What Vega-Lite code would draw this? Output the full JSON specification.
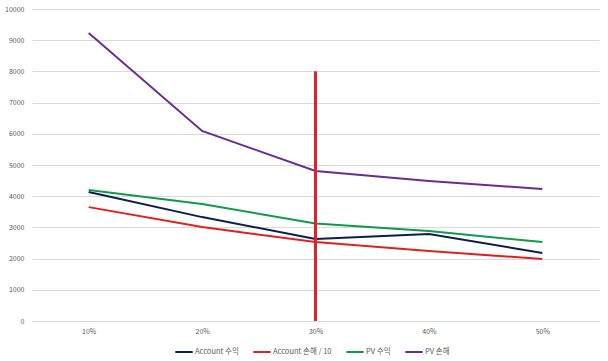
{
  "$schema": "https://vega.github.io/schema/vega-lite/v6.json",
  "width": 567,
  "height": 312,
  "autosize": {"type": "none"},
  "padding": {"left": 32, "top": 9, "right": 9, "bottom": 40},
  "background": "white",
  "config": {
    "view": {"stroke": null},
    "font": "Noto Sans CJK KR",
    "axis": {"labelColor": "#595959", "labelFontSize": 7, "domain": false, "ticks": false, "gridColor": "#d9d9d9", "gridWidth": 1, "title": null, "labelOverlap": false},
    "legend": {"labelColor": "#595959", "labelFontSize": 7.5}
  },
  "datasets": {
    "lines": [
      {"rate": "10%", "series": "Account 수익", "value": 4135},
      {"rate": "20%", "series": "Account 수익", "value": 3330},
      {"rate": "30%", "series": "Account 수익", "value": 2630},
      {"rate": "40%", "series": "Account 수익", "value": 2790},
      {"rate": "50%", "series": "Account 수익", "value": 2180},
      {"rate": "10%", "series": "Account 손해 / 10", "value": 3650},
      {"rate": "20%", "series": "Account 손해 / 10", "value": 3010},
      {"rate": "30%", "series": "Account 손해 / 10", "value": 2530},
      {"rate": "40%", "series": "Account 손해 / 10", "value": 2240},
      {"rate": "50%", "series": "Account 손해 / 10", "value": 1990},
      {"rate": "10%", "series": "PV 수익", "value": 4200},
      {"rate": "20%", "series": "PV 수익", "value": 3750},
      {"rate": "30%", "series": "PV 수익", "value": 3125},
      {"rate": "40%", "series": "PV 수익", "value": 2885},
      {"rate": "50%", "series": "PV 수익", "value": 2530},
      {"rate": "10%", "series": "PV 손해", "value": 9230},
      {"rate": "20%", "series": "PV 손해", "value": 6090},
      {"rate": "30%", "series": "PV 손해", "value": 4810},
      {"rate": "40%", "series": "PV 손해", "value": 4490},
      {"rate": "50%", "series": "PV 손해", "value": 4230}
    ],
    "marker": [{"rate": "30%", "from": 0, "to": 8000}]
  },
  "encoding": {
    "x": {"field": "rate", "type": "ordinal", "scale": {"type": "point", "padding": 0.5}, "axis": {"labelAngle": 0, "labelPadding": 6, "grid": false}},
    "y": {"type": "quantitative", "scale": {"domain": [0, 10000], "nice": false}, "axis": {"values": [0,1000,2000,3000,4000,5000,6000,7000,8000,9000,10000], "labelPadding": 8, "format": "d"}}
  },
  "layer": [
    {
      "data": {"name": "lines"},
      "mark": {"type": "line", "strokeWidth": 2},
      "encoding": {
        "y": {"field": "value", "type": "quantitative", "scale": {"domain": [0, 10000], "nice": false}, "axis": {"values": [0,1000,2000,3000,4000,5000,6000,7000,8000,9000,10000], "labelPadding": 8, "format": "d"}},
        "color": {
          "field": "series", "type": "nominal",
          "scale": {"domain": ["Account 수익", "Account 손해 / 10", "PV 수익", "PV 손해"], "range": ["#0c1d4f", "#e0201e", "#109a4b", "#6a2c91"]},
          "legend": {"orient": "none", "legendX": 142, "legendY": 333, "direction": "horizontal", "title": null, "symbolType": "stroke", "symbolSize": 300, "symbolStrokeWidth": 2, "columnPadding": 10, "labelOffset": 1}
        }
      }
    },
    {
      "data": {"name": "marker"},
      "mark": {"type": "rule", "color": "#e0202a", "strokeWidth": 3},
      "encoding": {
        "y": {"field": "from", "type": "quantitative", "scale": {"domain": [0, 10000], "nice": false}, "axis": {"values": [0,1000,2000,3000,4000,5000,6000,7000,8000,9000,10000], "labelPadding": 8, "format": "d"}},
        "y2": {"field": "to"}
      }
    }
  ]
}
